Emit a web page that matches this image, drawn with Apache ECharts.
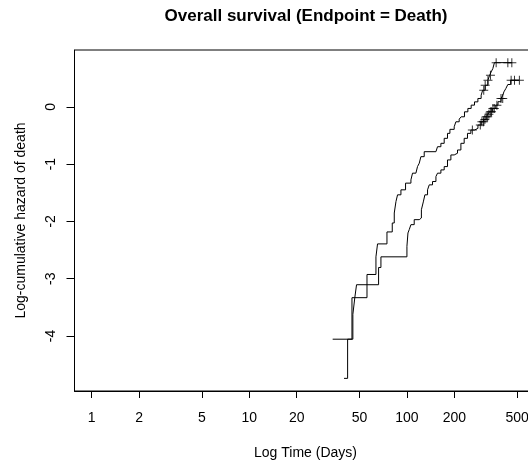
<!DOCTYPE html>
<html>
<head>
<meta charset="utf-8">
<script src="https://cdn.jsdelivr.net/npm/echarts@6/dist/echarts.min.js"></script>
<style>
  html, body { margin: 0; padding: 0; background: #fff; }
  #chart { width: 528px; height: 463px; }
</style>
</head>
<body>
<div id="chart"></div>
<script>
// Tick positions on the log time axis and the hazard axis
const timeTicks = [1, 2, 5, 10, 20, 50, 100, 200, 500];
const hazardTicks = [-4, -3, -2, -1, 0];

// Group 1 (upper curve): event times (days) and log cumulative hazard after each event
const group1Times = [33.8, 44.8, 55.8, 63.6, 65.1, 74.7, 80.7, 83.1, 85.2, 87.2, 91.6, 98, 106, 108.5, 114, 116.7,
  119.7, 122.6, 128.7, 152.7, 156.3, 164.2, 172.3, 180.8, 187.3, 199.4, 204.4, 214.5, 220.8, 231.7, 243.5, 255.5,
  268.2, 281.8, 295.6, 302.2, 313.3, 326, 334.6, 342, 350.6, 358.9, 462.7];
const group1Hazard = [-4.057, -3.332, -2.927, -2.619, -2.393, -2.184, -2.028, -1.854, -1.652, -1.536, -1.449, -1.332,
  -1.275, -1.158, -1.130, -1.043, -0.984, -0.870, -0.783, -0.753, -0.696, -0.637, -0.550, -0.463, -0.393, -0.348,
  -0.261, -0.214, -0.174, -0.087, -0.028, 0.030, 0.087, 0.146, 0.203, 0.290, 0.377, 0.464, 0.551, 0.609, 0.668,
  0.772, 0.772];
const group1Censored = [307, 313.5, 326.5, 338.6, 368, 436.5, 462.7];

// Group 2 (lower curve)
const group2Times = [39.9, 42.05, 45.4, 46.7, 47.9, 66.1, 68.4, 100, 101.5, 103.4, 106, 111.2, 119.7, 123.5, 127,
  130, 135.1, 138.5, 145.3, 152.7, 156.3, 164.2, 172.3, 180.8, 190, 199.4, 209.3, 219.9, 230.7, 242.1, 254.4, 268.2,
  282, 295.6, 307, 318, 326, 333.7, 348, 366, 378, 395, 405.7, 412, 424, 436.5, 455, 516.7];
const group2Hazard = [-4.741, -4.057, -3.623, -3.332, -3.106, -2.805, -2.619, -2.435, -2.202, -2.144, -2.057, -1.970,
  -1.941, -1.797, -1.660, -1.536, -1.449, -1.362, -1.304, -1.217, -1.158, -1.101, -1.043, -0.927, -0.840, -0.810,
  -0.753, -0.637, -0.550, -0.463, -0.405, -0.376, -0.318, -0.261, -0.220, -0.174, -0.130, -0.087, -0.028, 0.030,
  0.090, 0.146, 0.203, 0.261, 0.320, 0.390, 0.464, 0.464];
const group2Censored = [260, 292, 299, 306, 312, 318, 325, 331, 338, 344, 351, 358, 372, 395, 405, 458, 481, 516.7];

// Value of a right-continuous step curve at time t
function stepValue(times, values, t) {
  let v = values[0];
  for (let i = 0; i < times.length; i++) {
    if (times[i] <= t) v = values[i];
  }
  return v;
}

// Time is plotted on a log10 scale
const lg = Math.log10;
const pairs = (xs, ys) => xs.map((x, i) => [lg(x), ys[i]]);
const censorPoints = (times, values, cens) => cens.map(t => [lg(t), stepValue(times, values, t)]);

// Axis limits: data range widened by 4% on each side
const tLo = 1, tHi = 516.7;
const lt = lg(tHi) - lg(tLo);
const xMin = lg(tLo) - 0.04 * lt;
const xMax = lg(tHi) + 0.04 * lt;
const hLo = -4.741, hHi = 0.772;
const hr = hHi - hLo;
const yMin = hLo - 0.04 * hr;
const yMax = hHi + 0.04 * hr;

const FONT = 'Liberation Sans, Arial, sans-serif';
const plus = 'path://M4,0H5V9H4ZM0,4H9V5H0Z';

const chart = echarts.init(document.getElementById('chart'), null, { renderer: 'canvas' });
chart.setOption({
  animation: false,
  backgroundColor: '#fff',
  title: {
    text: 'Overall survival (Endpoint = Death)',
    left: 301,
    top: 3,
    textAlign: 'center',
    textStyle: { fontFamily: FONT, fontSize: 17, fontWeight: 'bold', color: '#000' }
  },
  grid: {
    left: 74.5, top: 50, width: 462, height: 341,
    outerBoundsMode: 'none',
    containLabel: false,
    show: true, borderColor: '#000', borderWidth: 1, backgroundColor: 'transparent'
  },
  xAxis: {
    type: 'value',
    min: xMin,
    max: xMax,
    name: 'Log Time (Days)',
    nameLocation: 'middle',
    nameGap: 55,
    nameTextStyle: { fontFamily: FONT, fontSize: 14, color: '#000' },
    axisLine: { show: true, onZero: false, lineStyle: { color: '#000', width: 1 } },
    axisTick: { show: true, length: 7, lineStyle: { color: '#000' }, customValues: timeTicks.map(lg) },
    axisLabel: { show: true, margin: 20, fontFamily: FONT, fontSize: 14, color: '#000',
      customValues: timeTicks.map(lg), formatter: v => String(Math.round(Math.pow(10, v))) },
    splitLine: { show: false }
  },
  yAxis: {
    type: 'value',
    min: yMin,
    max: yMax,
    name: 'Log-cumulative hazard of death',
    nameLocation: 'middle',
    nameGap: 46,
    nameRotate: 90,
    nameTextStyle: { fontFamily: FONT, fontSize: 14, color: '#000' },
    axisLine: { show: true, onZero: false, lineStyle: { color: '#000', width: 1 } },
    axisTick: { show: true, length: 8, lineStyle: { color: '#000' }, customValues: hazardTicks },
    axisLabel: { show: true, margin: 16, rotate: 90, fontFamily: FONT, fontSize: 14, color: '#000',
      customValues: hazardTicks, formatter: v => String(v) },
    splitLine: { show: false }
  },
  series: [
    {
      type: 'line', step: 'end', showSymbol: false, silent: true,
      data: pairs(group1Times, group1Hazard),
      lineStyle: { color: '#000', width: 1 }
    },
    {
      type: 'line', step: 'end', showSymbol: false, silent: true,
      data: pairs(group2Times, group2Hazard),
      lineStyle: { color: '#000', width: 1 }
    },
    {
      type: 'scatter', silent: true, symbol: plus, symbolSize: 9,
      data: censorPoints(group1Times, group1Hazard, group1Censored),
      itemStyle: { color: '#000' }
    },
    {
      type: 'scatter', silent: true, symbol: plus, symbolSize: 9,
      data: censorPoints(group2Times, group2Hazard, group2Censored),
      itemStyle: { color: '#000' }
    }
  ]
});
</script>
</body>
</html>
